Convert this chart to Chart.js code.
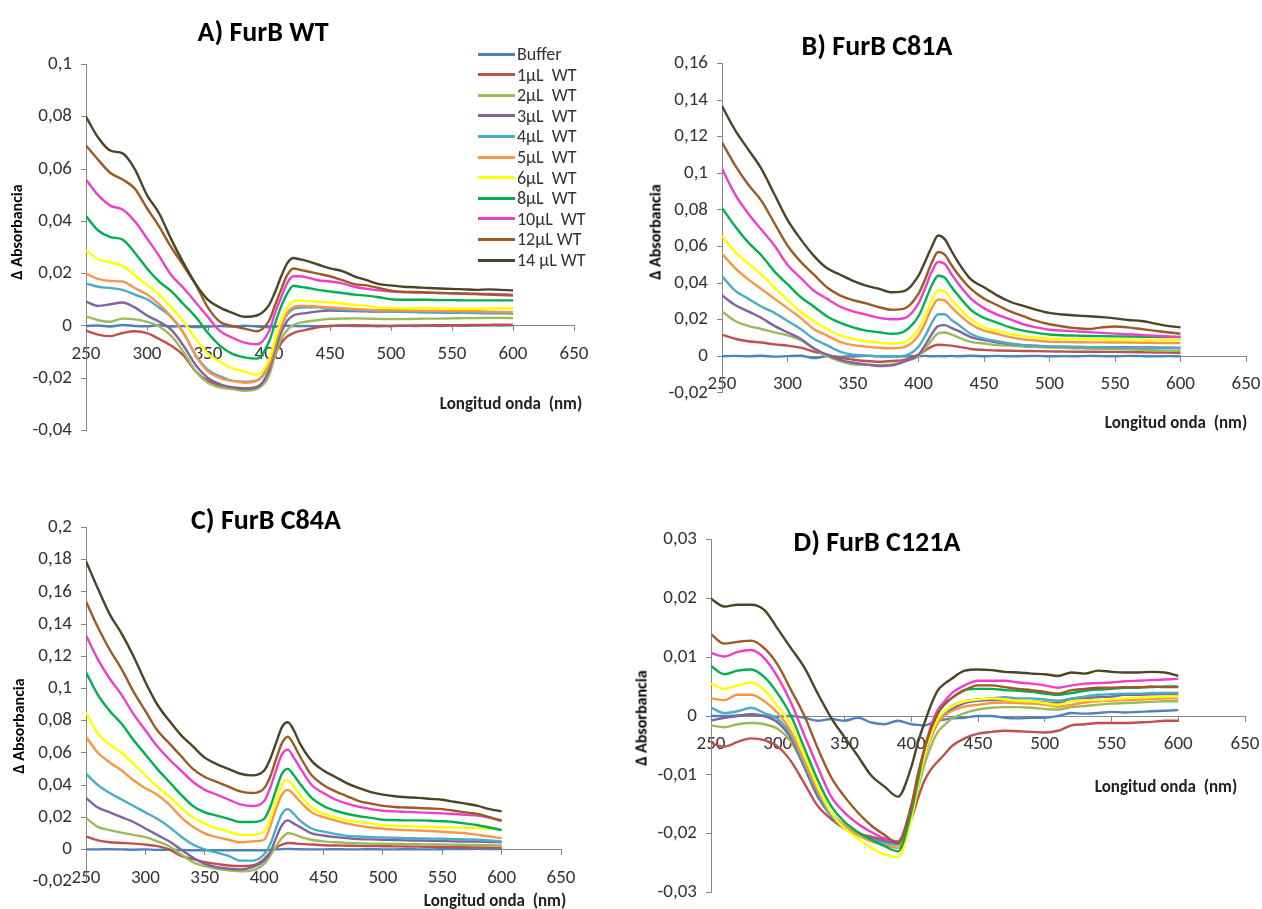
<!DOCTYPE html>
<html>
<head>
<meta charset="utf-8">
<script src="https://cdn.jsdelivr.net/npm/chart.js@4.4.0/dist/chart.umd.min.js"></script>
<style>
  body { margin: 0; background: #fff; width: 1262px; height: 909px; position: relative; overflow: hidden;
         font-family: Carlito, Lato, sans-serif; color: #000; }
  .panel { position: absolute; }
  .txt { position: absolute; white-space: pre; transform: translate(-50%, -50%); }
  .title { font-weight: bold; font-size: 28px; }
  .xtitle { font-weight: bold; font-size: 17px; color: #222; }
  .ytitle { font-weight: bold; font-size: 16px; transform: translate(-50%, -50%) rotate(-90deg); }
  .leg { position: absolute; font-size: 18px; color: #333; white-space: pre; }
  .leg i { position: absolute; left: 0; width: 37px; height: 3px; top: -1.5px; }
  .leg span { position: absolute; left: 39px; top: -11px; }
</style>
</head>
<body>
<script>
// wavelength (nm), finer steps round the 420 nm band
const nm = [250,260,270,280,290,300,310,320,330,340,350,360,370,380,390,
            400,405,410,415,420,425,430,
            440,450,460,470,480,490,500,510,520,530,540,550,560,570,580,590,600];

const seriesLabels = ['Buffer','1µL  WT','2µL  WT','3µL  WT','4µL  WT','5µL  WT','6µL  WT','8µL  WT','10µL  WT','12µL WT','14 µL WT'];
const seriesColors = ['#4F81BD','#C0504D','#9BBB59','#8064A2','#4BACC6','#F79646','#FFFF00','#00B050','#F03ECB','#9B5A26','#4A4428'];

// values in milli-absorbance units (Δ Abs × 1000)
// A) FurB WT
const wtBuffer = [0,0.2,-0.2,0.4,0,-0.1,0.3,-0.2,0,-0.4,-0.3,0,-0.2,0.1,-0.2, -0.5,-0.3,0,0.1,0,-0.1,0, -0.1,0,0.1,0,0,-0.1,0,0.1,0,0.1,0,0.2,0.1,0.2,0.3,0.2,0.3];
const wt1  = [-1.8,-3.3,-3.9,-2.7,-2,-2.7,-5,-7.6,-11.3,-17.4,-21,-22.9,-23.5,-23.8,-23.3, -18,-11,-6.5,-4,-2.7,-2,-1.5, -0.5,0,0.2,0.3,0.2,0.1,0,0.1,0.2,0.2,0.3,0.3,0.3,0.4,0.4,0.5,0.4];
const wt2  = [3.7,2.2,1.6,2.8,2.5,1.6,-0.2,-3.9,-10,-17.4,-21.7,-23.5,-24.1,-24.8,-24.1, -19,-11,-5,-1.5,0.4,1.2,1.6, 2.2,2.7,2.8,2.9,2.8,2.7,2.6,2.6,2.7,2.8,2.8,2.9,3,3,3.1,3.1,3];
const wt3  = [9.3,7.7,8.3,9,7.1,4,1.6,-1.5,-7.6,-15,-19.9,-22.3,-23.5,-24.1,-23.5, -17,-9,-2.5,2,4,4.6,4.9, 5.6,5.9,5.8,5.7,5.6,5.5,5.5,5.4,5.4,5.3,5.3,5.2,5.2,5.1,5.1,5,5];
const wt4  = [16.3,15,14.5,13.8,12,10.2,7,3.4,-2.7,-11.3,-16.8,-19.3,-21,-21.3,-20.8, -14.5,-7,0,4.5,6.5,7,7.1, 7.1,6.5,6.2,6,5.8,5.6,5.5,5.4,5.3,5.2,5.1,5,5,4.9,4.8,4.8,4.7];
const wt5  = [20,18,17.2,17,14.5,12,8.3,3.4,-2.7,-11.3,-17.4,-19.9,-21,-21.7,-21, -15,-7,0,5,7.2,7.7,7.7, 7.4,7.1,6.8,6.5,6.3,6,6,6,5.9,5.8,5.8,5.7,5.6,5.6,5.5,5.4,5.3];
const wt6  = [29,25.5,24.3,23,19.4,15.7,12,7,1.6,-5,-10.7,-13.7,-16.2,-17.4,-18.6, -13,-5,2,7,9.5,9.8,9.6, 9.3,9,8.6,8,7.7,7,6.9,6.8,6.8,6.7,6.7,6.6,6.6,6.6,6.7,6.8,6.8];
const wt8  = [42,36.5,34,33,28,22,17,13.2,8.3,3.4,-2.7,-7.6,-10.7,-12,-12.5, -6,1,7.5,12.5,15.4,15,14.7, 13.8,13.2,12.6,12,11.6,11,10.2,10,10,10,9.9,9.9,9.8,9.8,9.8,9.8,9.8];
const wt10 = [56,50,46,44.5,40,33.5,26.7,19.4,14.5,9,3.4,-2,-4.5,-6.4,-7, -2,5,11,16.5,19,19,18.7, 17.5,17,16.3,15,14.2,13.6,13.2,13,12.8,12.7,12.6,12.5,12.4,12.3,12.2,12.1,12];
const wt12 = [69,63.5,58.5,56,52.5,45,38,30,23,15.7,7,1.5,0,-1,-2, 2,8,14,19.5,22,21.5,21, 20,19,17.5,16,15.5,14.5,13.5,13,13,12.8,12.6,12.5,12.3,12.2,12,11.8,11.6];
const wt14 = [80,72,67,66,60,50,43,33,24,16,10,7,5,3.5,4, 8,13,19,24,26,25.5,25, 23.5,22,21,19,17.5,16,15.5,15,14.8,14.5,14.3,14.2,14,13.8,14,13.8,13.6];

// B) FurB C81A
const c81Buffer = [0,0.2,0,0.3,-0.2,0.1,0.3,-1,0,-0.3,0,0.2,0,-0.2,0, 0,0.2,0,0.1,0,0.2,0, 0.3,0,0.2,0,0.1,0.2,0,0.1,0,0.2,0.1,0,0.2,0.1,0,0.1,0];
const c81_1  = [11.7,9.6,8.2,7.5,6.5,5.8,4.7,2.6,0.9,-0.9,-1.8,-2.6,-3,-2.6,-1.8, 0.9,3,5.3,6.3,6.1,5.8,5.3, 4,3.5,3.2,3,2.9,2.8,2.7,2.6,2.5,2.5,2.4,2.4,2.3,2.2,2.1,2,1.8];
const c81_2  = [24.5,19.3,16.6,14.9,13.1,11.4,8.8,4.4,0,-2.6,-4.4,-4.7,-4.7,-4.4,-2.6, 0,4,8.8,12.5,13,12,10.5, 7.9,7,6.1,5.8,5.3,5,4.8,4.6,4.4,4.2,4,3.9,3.7,3.5,3.3,3.1,3];
const c81_3  = [33.3,28,24.5,21,16.6,13.1,9.6,4.4,0.9,-1.8,-3.5,-4.4,-5.3,-4.9,-2.6, 0.9,6,12,16.5,17,15.5,14, 10.5,8.8,7.5,6.7,6.1,5.8,5.3,5.2,5.1,5,5,4.9,4.9,4.8,4.8,4.7,4.7];
const c81_4  = [43.8,35.9,31.5,27.2,23.7,19.3,14.9,9.6,6.1,2.6,0.9,0.5,0,0,0.5, 5.3,11,18,23,23,20,17.5, 12.3,9.6,8.2,7,6.1,5.6,5.3,5.2,5.1,5,4.9,4.8,4.7,4.6,4.5,4.5,4.4];
const c81_5  = [56,48.2,42,36.8,31.5,26.3,21,14.9,11.4,7.9,6.1,5.3,4.7,4.4,5.3, 11.4,18,26,31,30.5,27,23.5, 17.5,14,12.3,10.5,9.3,8.6,7.9,7.8,7.7,7.6,7.6,7.5,7.5,7.4,7.4,7.3,7.3];
const c81_6  = [65.7,57,50.8,44.7,37.7,30.7,24.5,19.3,14.9,11.4,9.6,8.2,7.5,7,7.9, 14.9,22,30.5,36,35.5,31,27, 20.2,15.8,14,12.3,11,10.2,9.6,9.5,9.4,9.3,9.2,9.1,9,8.9,8.9,8.8,8.8];
const c81_8  = [81.1,71,62.2,55.2,46.4,39.4,32.4,27.2,21.9,18.4,15.8,14,13.1,12.3,14, 21.9,30,38.5,44,43,38,33.5, 25.4,21,18.4,15.8,14,12.8,11.9,11.5,11.3,11.1,11,10.9,10.8,10.7,10.6,10.5,10.5];
const c81_10 = [102.5,88.5,78,69.2,60.5,50,42.9,35.9,31.5,27.2,24.5,22.8,21,20.2,21, 28.9,37,46,51.5,50.5,45,40, 31.5,26.3,22.8,20.2,17.5,15.8,14.5,14,13.6,13.2,12.8,12.4,12,11.6,11.2,10.8,10.5];
const c81_12 = [116.9,104.3,93.8,85,72.7,60.5,51.7,44.7,37.7,33.3,30.7,28.9,26.8,25.4,26.3, 34.2,42,51,57,55.5,50,45, 36.8,31.5,28,24.5,21.9,19.3,17.5,16.3,15.4,14.9,15.8,16.3,15.8,14.9,14,13.1,12.3];
const c81_14 = [136.7,123.6,113,102.5,88.5,74.5,64,55,48.2,44.7,41.2,38.6,36.8,35,35.9, 44,51.7,59.6,66,64,57.8,51.7, 42,37.7,33.3,29.8,27.5,25.4,23.7,22.8,22.3,21.9,21.4,20.7,19.8,19.3,18,16.6,15.8];

// C) FurB C84A
const c84Buffer = [0,0,0.1,0,-0.2,0,-0.3,-0.2,-0.4,-0.5,-0.5,-0.6,-0.5,-0.6,-0.5, -0.5,-0.3,0,0.2,0.3,0.2,0.1, 0,0,0.1,0,0,0.1,0,0,0.1,0,0,0.1,0.2,0.2,0.3,0.2,0.2];
const c84_1  = [8,5.6,4.4,4,3.6,3,2,0,-4,-6,-8,-9,-10,-10.4,-10, -6,-2,1,3,4,3.8,3.4, 3,2.6,2.4,2.3,2.2,2.1,2,1.9,1.8,1.7,1.6,1.5,1.4,1.3,1.2,1.1,1];
const c84_2  = [19.6,14,12,10.4,9,7.6,5,2,-3,-8,-10.4,-12,-13,-13.6,-13, -9,-4,2,7,10,9.5,8, 6,5,4.4,4,3.8,3.6,3.5,3.4,3.3,3.2,3.1,3,2.9,2.8,2.7,2.6,2.4];
const c84_3  = [32,26,23,20,17,13,9,5,0,-5,-9,-11,-12,-12.4,-11, -7,-2,7,15,18,16,14, 10,8.6,7.6,7,6.4,6.2,6,5.8,5.6,5.5,5.4,5.2,5,4.9,4.8,4.6,4.4];
const c84_4  = [47,40,35,31,27,23,19,14,8,3,0,-2,-4,-7,-7, -3,3,13,22,25,22,18, 13,11,9.6,8.4,8,7.6,7.4,7.2,7,6.8,6.7,6.6,6.4,6.2,6,5.5,5];
const c84_5  = [70,60,54,49,43,38,34,28,20,14,10,7.6,6,4.4,5, 6,14,25,34,37,34,30, 23,20,18,16,14.6,13.6,12.8,12.3,12,11.7,11.4,11,10.5,10,9,8,7];
const c84_6  = [85,72,65,60,53,46,39,33,26,20,16,13,11,9,9, 11,19,30,40,43,39,34, 26,22,20,18,17,16,15,14.6,14.4,14.2,14,13.8,13.6,13.4,13.2,13,12.6];
const c84_8  = [110,96,86,78,68,59,50,42,34,27,23,21,19,17,17, 19,26,37,47,50,46,41, 32,27,24,22,20.6,19.6,18.4,18.2,18,18,17.8,17.5,17,16,15,13.6,12];
const c84_10 = [133,118,106,96,84,74,64,56,49,42,37,34,31,28,27, 30,38,49,59,62,57,51, 40,35,31,28.4,26.4,25,24,23.6,23.3,23,22.7,22.4,22,21.5,21,19.6,17.6];
const c84_12 = [154,138,124,112,98,86,74,66,58,50,45,42,39,36,35, 38,45,56,66,70,65,58, 46,40,36,33,30,28.4,27,26.3,26,25.7,25.4,25,24,23,22,20,18];
const c84_14 = [179,162,146,134,120,104,90,80,71,64,57,53,50,47,46, 49,56,66,76,79,74,66, 55,49,45,41,38,35.6,34,33,32.4,32,31.4,30.8,29.6,28.4,27,25,23.6];

// D) FurB C121A
const c121Buffer = [0,0,0.1,0.2,0,-0.1,0,-0.3,-0.8,-0.5,-0.8,-0.3,-1.1,-1.4,-0.8, -1.4,-1.5,-1.6,-1.2,-0.8,-0.6,-0.4, -0.3,0,0,-0.3,-0.4,-0.3,-0.3,0,0.5,0.4,0.5,0.7,0.6,0.7,0.8,0.9,1];
const c121_1  = [-4.6,-5.2,-4.4,-3.8,-4.1,-5.2,-7.7,-11.5,-15.3,-17.5,-19.1,-20,-20.5,-21,-21.3, -17.5,-14,-10.9,-9,-7.7,-6.5,-5.2, -3.8,-3,-2.7,-2.5,-2.6,-2.7,-2.8,-2.5,-1.6,-1.4,-1.2,-1.2,-1.2,-1.1,-1,-0.8,-0.8];
const c121_2  = [-1.6,-1.9,-1.4,-1.2,-1.4,-2.2,-4.4,-8.7,-13.7,-16.9,-18.9,-20,-20.8,-21.3,-21.6, -16.9,-12.5,-8.2,-5,-2.7,-1.5,-0.5, 0.5,1.1,1.4,1.5,1.5,1.4,1.2,1.1,1.5,1.7,1.9,2.1,2.2,2.3,2.4,2.5,2.5];
const c121_3  = [-0.8,-0.3,0,0.3,0,-1.1,-3.8,-8.7,-13.7,-16.9,-18.9,-20,-20.8,-21.3,-21.6, -16.4,-11.5,-6.8,-3.5,-1.1,0.2,1.1, 2.2,2.6,2.7,2.7,2.6,2.5,2.3,2.2,2.7,3,3.2,3.3,3.6,3.6,3.7,3.7,3.7];
const c121_4  = [1.4,0.5,0.8,1.4,0.5,-0.5,-3.3,-8.2,-13.1,-16.9,-19.1,-20.2,-21,-21.6,-21.9, -16.4,-11.5,-6.6,-3.2,-0.8,0.5,1.6, 2.5,2.8,3,3.2,3,3,2.8,2.6,3,3.3,3.6,3.7,3.8,3.8,3.9,3.9,3.9];
const c121_5  = [3,2.7,3.6,3.6,2.5,0.5,-2.7,-7.7,-12.6,-16.4,-18.6,-20.2,-21.3,-21.9,-22.4, -16.4,-11.5,-6.6,-3.5,-1.1,0,0.8, 1.6,1.9,2.2,2.3,2.2,2.1,1.9,1.6,1.9,2.3,2.5,2.6,2.7,2.8,2.9,3,3];
const c121_6  = [5.5,4.6,5.2,5.7,4.4,1.6,-1.6,-6.6,-12,-16.4,-19.1,-20.8,-22.4,-23.5,-24, -17.5,-12,-6.6,-3,-0.5,0.8,1.6, 2.5,2.8,3,2.8,2.6,2.5,2.2,1.9,2.5,2.7,2.7,2.8,3,3.1,3.2,3.3,3.3];
const c121_8  = [8.5,7.1,7.7,7.9,6.6,3.8,0,-5.5,-10.9,-15.3,-18,-19.7,-21,-22.1,-23, -16.4,-11,-5.5,-2,0.5,2,3, 4.4,4.6,4.6,4.4,4.3,4.1,3.8,3.6,3.9,4.3,4.5,4.6,4.8,4.8,4.9,5,5];
const c121_10 = [10.7,10.1,10.9,11.2,9.8,6.6,2.2,-3.3,-8.7,-13.7,-16.4,-18.3,-19.7,-20.8,-21.3, -15.3,-10,-5.5,-1.5,1.1,2.5,3.8, 5.2,6,6,6,5.7,5.5,5.2,4.8,5.2,5.5,5.6,5.7,5.9,6,6.1,6.2,6.3];
const c121_12 = [13.9,12.3,12.6,12.8,11.5,8.7,4.4,0,-5.5,-10.4,-13.7,-16.4,-18.6,-20.2,-21.6, -15.3,-10,-5.5,-2,0.5,2,3, 4.4,5.2,5.2,4.9,4.6,4.4,4.1,3.8,4.4,4.6,4.8,4.8,4.9,4.9,5,4.9,4.9];
const c121_14 = [19.9,18.6,18.9,18.9,18,14.8,11.5,8.2,3.8,-0.3,-3.6,-6.8,-10.1,-12,-13.7, -8.7,-4.5,-1.1,2,4.4,5.5,6.3, 7.7,7.9,7.8,7.5,7.4,7.2,7.1,6.8,7.4,7.2,7.7,7.5,7.4,7.4,7.5,7.4,6.8];

const seriesWT   = [wtBuffer, wt1, wt2, wt3, wt4, wt5, wt6, wt8, wt10, wt12, wt14];
const seriesC81  = [c81Buffer, c81_1, c81_2, c81_3, c81_4, c81_5, c81_6, c81_8, c81_10, c81_12, c81_14];
const seriesC84  = [c84Buffer, c84_1, c84_2, c84_3, c84_4, c84_5, c84_6, c84_8, c84_10, c84_12, c84_14];
const seriesC121 = [c121Buffer, c121_1, c121_2, c121_3, c121_4, c121_5, c121_6, c121_8, c121_10, c121_12, c121_14];

// y ranges (milli-abs) and ticks
const panels = [
  { series: seriesWT,   yMin: -40, yMax: 100, yStep: 20, left: 86,  right: 574,  top: 57.7, bottom: 436.7 },
  { series: seriesC81,  yMin: -20, yMax: 160, yStep: 20, left: 722, right: 1246, top: 56.7, bottom: 399 },
  { series: seriesC84,  yMin: -20, yMax: 200, yStep: 20, left: 86,  right: 561,  top: 521,  bottom: 888 },
  { series: seriesC121, yMin: -30, yMax: 30,  yStep: 10, left: 711, right: 1245, top: 533,  bottom: 899 }
];

const axisColor = '#868686';
const tickFont = { family: 'Carlito, Lato, sans-serif', size: 19 };

function fmt(v) {
  return String(Math.round(v) / 1000).replace('.', ',');
}

function makePanel(p) {
  const yW = 64, padT = 14, padB = 14, padR = 30;
  const div = document.createElement('div');
  div.className = 'panel';
  div.style.left = (p.left - yW) + 'px';
  div.style.top = (p.top - padT) + 'px';
  div.style.width = (p.right - p.left + yW + padR) + 'px';
  div.style.height = (p.bottom - p.top + padT + padB) + 'px';
  const canvas = document.createElement('canvas');
  div.appendChild(canvas);
  document.body.appendChild(div);

  new Chart(canvas, {
    type: 'line',
    data: {
      datasets: p.series.map((vals, i) => ({
        label: seriesLabels[i],
        data: vals.map((v, k) => ({ x: nm[k], y: v })),
        borderColor: seriesColors[i],
        borderWidth: 2.4,
        pointRadius: 0,
        fill: false,
        cubicInterpolationMode: 'monotone',
        order: seriesLabels.length - i
      }))
    },
    options: {
      responsive: true,
      maintainAspectRatio: false,
      animation: false,
      layout: { autoPadding: false, padding: { left: 0, top: padT, right: padR, bottom: padB } },
      plugins: { legend: { display: false }, tooltip: { enabled: false } },
      scales: {
        x: {
          type: 'linear', min: 250, max: 650,
          position: { y: 0 },
          ticks: { stepSize: 50, font: tickFont, color: '#333', padding: 12, maxRotation: 0, autoSkip: false },
          grid: { display: true, drawOnChartArea: false, drawTicks: true, tickLength: 5, color: axisColor },
          border: { display: true, color: axisColor, width: 1 },
          afterFit: s => { s.height = 0; }
        },
        y: {
          type: 'linear', min: p.yMin, max: p.yMax,
          ticks: { stepSize: p.yStep, font: tickFont, color: '#333', padding: 9, callback: v => fmt(v) },
          grid: { display: true, drawOnChartArea: false, drawTicks: true, tickLength: 5, color: axisColor },
          border: { display: true, color: axisColor, width: 1 },
          afterFit: s => { s.width = yW; }
        }
      }
    }
  });
}

panels.forEach(makePanel);

// titles and axis labels
const texts = [
  ['title', 'A) FurB WT', 263, 31],
  ['title', 'B) FurB C81A', 877, 45],
  ['title', 'C) FurB C84A', 266, 519],
  ['title', 'D) FurB C121A', 877, 541],
  ['xtitle', 'Longitud onda  (nm)', 511, 403],
  ['xtitle', 'Longitud onda  (nm)', 1176, 422],
  ['xtitle', 'Longitud onda  (nm)', 495, 900],
  ['xtitle', 'Longitud onda  (nm)', 1166, 786],
  ['ytitle', 'Δ Absorbancia', 16, 232],
  ['ytitle', 'Δ Absorbancia', 655, 232],
  ['ytitle', 'Δ Absorbancia', 18, 726],
  ['ytitle', 'Δ Absorbancia', 641, 718]
];
texts.forEach(([cls, s, x, y]) => {
  const d = document.createElement('div');
  d.className = 'txt ' + cls;
  d.textContent = s;
  d.style.left = x + 'px';
  d.style.top = y + 'px';
  document.body.appendChild(d);
});

// legend of panel A
seriesLabels.forEach((lab, i) => {
  const row = document.createElement('div');
  row.className = 'leg';
  row.style.left = '478px';
  row.style.top = (54 + i * 20.6) + 'px';
  const line = document.createElement('i');
  line.style.background = seriesColors[i];
  const t = document.createElement('span');
  t.textContent = lab;
  row.appendChild(line);
  row.appendChild(t);
  document.body.appendChild(row);
});
</script>
</body>
</html>
